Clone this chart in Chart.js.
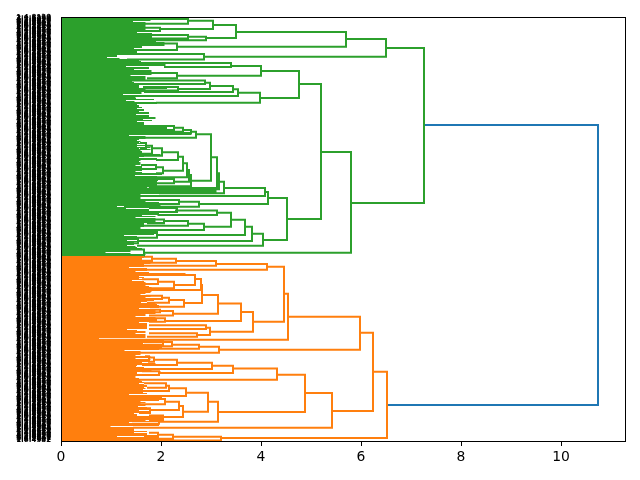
<!DOCTYPE html>
<html>
<head>
<meta charset="utf-8">
<title>Dendrogram</title>
<script src="https://cdn.jsdelivr.net/npm/chart.js@4/dist/chart.umd.min.js"></script>
<style>
html, body { margin: 0; padding: 0; background: #fff; }
canvas { display: block; }
</style>
</head>
<body>
<canvas id="myChart" width="640" height="480"></canvas>
<script>
// merge distance of every leaf, one per row of the y axis, top to bottom
const greenLeaves = [
    1.78,1.78,1.78,1.78,1.43,1.68,1.68,1.68,1.68,1.68,
    1.68,1.68,1.68,1.68,1.68,1.51,1.81,1.81,1.81,1.81,
    1.81,1.81,1.88,1.88,1.89,2.06,2.06,2.06,2.06,1.61,
    1.61,1.45,1.81,1.81,1.51,1.51,1.51,1.51,1.11,1.11,
    0.91,1.16,1.35,1.55,1.59,2.08,2.08,2.08,2.08,1.29,
    1.75,1.75,1.45,1.80,1.80,1.80,1.80,1.80,1.38,1.68,
    1.68,1.68,1.68,1.48,1.41,1.45,1.38,1.55,1.55,1.55,
    1.55,2.11,1.68,1.68,1.68,1.60,1.60,1.23,1.35,1.35,
    1.48,1.49,1.85,1.29,1.46,1.91,1.91,1.51,1.55,1.55,
    1.61,1.51,1.65,1.65,1.55,1.75,1.75,1.49,1.75,1.75,
    1.88,1.88,1.63,1.81,1.51,1.65,1.65,1.65,
    1.98,1.65,2.11,2.11,2.11,2.11,2.25,2.25,2.60,2.60,
    1.35,1.68,1.68,1.68,1.55,1.51,1.58,1.55,1.68,1.51,
    1.68,1.51,1.78,1.55,1.78,1.58,1.61,1.61,1.65,1.98,
    1.65,1.65,1.55,1.91,1.91,1.58,1.55,1.58,1.58,1.58,
    1.48,1.61,1.61,1.88,1.88,1.61,1.48,1.61,2.01,2.01,
    1.47,1.91,1.91,1.91,1.91,1.93,1.91,1.91,1.91,1.91,
    1.91,1.68,1.71,3.10,3.10,3.10,3.10,3.10,3.10,1.58,
    1.58,1.58,1.58,1.58,1.98,1.95,1.68,1.95,1.95,1.95,
    1.98,1.11,1.75,1.29,1.75,1.75,1.95,1.95,1.95,1.95,
    1.61,1.88,1.48,1.88,1.88,1.88,1.88,2.05,1.65,1.65,
    1.65,1.65,1.58,1.58,1.58,1.58,1.58,1.58,1.93,1.85,
    1.25,1.51,1.51,1.51,1.55,1.31,1.51,1.45,1.45,1.45,
    1.31,1.48,1.51,1.61,1.55,1.38,1.38,0.88,1.38,1.68,
    1.65
];
const orangeLeaves = [
    1.65,1.65,1.61,1.61,1.61,1.78,1.78,1.78,1.65,1.65,
    1.65,1.35,1.71,1.71,1.71,1.48,1.75,2.48,2.48,2.48,
    1.55,1.65,1.55,1.65,1.41,1.65,1.68,1.65,1.65,1.68,
    1.75,1.80,1.80,1.80,1.80,1.80,1.78,1.68,1.58,1.78,
    1.78,1.68,1.85,1.71,1.85,1.71,1.59,1.88,1.91,1.95,
    1.95,1.95,1.55,1.88,1.88,1.88,1.88,1.88,1.68,1.68,
    1.48,1.88,1.91,1.91,1.91,1.81,1.55,1.71,1.71,1.71,
    1.71,1.71,1.71,1.31,1.51,1.68,1.68,1.48,1.68,1.68,
    1.68,1.68,0.75,2.05,2.05,2.05,2.05,1.63,2.01,2.01,
    1.68,2.01,1.95,1.95,1.26,1.58,1.58,1.58,1.58,1.48,
    1.78,1.78,1.48,1.78,1.75,1.75,1.61,1.88,1.88,1.51,
    1.49,1.65,1.65,1.65,1.80,1.98,1.51,1.51,1.95,1.95,
    1.48,1.48,1.55,1.55,1.58,1.61,1.65,1.55,1.65,1.71,
    1.71,1.65,1.68,1.63,1.71,1.71,1.63,1.71,1.35,2.01,
    2.01,2.01,2.01,1.68,1.95,1.58,1.68,1.58,1.68,1.68,
    1.53,1.71,1.71,1.78,1.55,1.78,1.78,1.45,1.51,1.51,
    2.01,2.01,2.01,1.98,1.68,1.98,1.35,1.95,1.95,1.95,
    0.98,1.45,1.45,1.45,1.45,1.71,1.45,1.71,1.71,1.95,
    1.11,1.95,1.95,1.95,2.25
];

// merges: rows of the two children, then [child a distance, merge distance, child b distance]
const greenRows = [
    [31,186],[22,39.7],[15,29.7],[8,21],[3.7,12],[2,6.7],[10.7,14],[19.7,23.3],[18,21.5],[26.5,33],
    [37,42.5],[135,235.7],[67,202],[54,81],[49,58.7],[46,50],[56,61.3],[75.7,85.7],[72.3,79],[69,75],
    [65.7,72],[63.5,67],[70,73.5],[181,223],[175,187],[171,179],[164.7,176.3],[156.3,172.3],[140.3,171],[117.3,163.7],
    [114.7,120.7],[113,116],[110.7,114.7],[109,113],[158,169.3],[153,164.7],[162,166.3],[146.3,160.3],[139.7,153.7],[135.3,143],
    [131.3,138.7],[128.7,136.7],[126,131],[150.3,156.3],[148,152],[184.7,189.7],[183,187],[216.7,228.7],[209.7,224],[202.7,218],
    [195.7,209.7],[193.5,198],[191,195],[206.7,213],[204,208.7],[202.5,206.3],[215,220.7],[232.5,238.5],[221.3,226.3]
];
const greenDist = [
    [6.50,7.26,5.80],[5.70,6.50,2.86],[3.50,5.70,2.32],[3.04,3.50,2.90],[2.54,3.04,1.98],[1.78,2.54,1.68],[1.68,1.98,1.68],[2.54,2.90,1.82],[1.82,2.54,1.82],[2.06,2.32,1.82],
    [1.28,2.86,1.34],[5.20,5.80,1.66],[4.76,5.20,4.52],[4.00,4.76,3.98],[3.40,4.00,2.32],[2.08,3.40,2.08],[1.80,2.32,1.74],[3.54,3.98,1.92],[3.44,3.54,1.24],[2.98,3.44,1.68],
    [2.88,2.98,2.34],[1.40,2.88,1.38],[1.66,2.34,1.68],[4.14,4.52,4.04],[4.08,4.14,2.76],[3.26,4.08,1.58],[3.16,3.26,1.98],[3.12,3.16,1.78],[3.00,3.12,1.78],[2.70,3.00,2.60],
    [2.60,2.70,1.68],[2.44,2.60,1.98],[2.26,2.44,1.98],[1.68,2.26,1.68],[2.56,2.60,1.68],[2.52,2.56,2.26],[1.92,2.26,1.92],[2.44,2.52,1.92],[2.34,2.44,2.04],[2.02,2.34,1.92],
    [1.82,2.02,1.68],[1.70,1.82,1.64],[1.60,1.70,1.60],[1.90,2.04,1.92],[1.62,1.90,1.62],[2.36,2.76,1.28],[1.98,2.36,1.68],[3.82,4.04,1.54],[3.68,3.82,1.54],[3.40,3.68,1.92],
    [3.12,3.40,2.86],[2.30,3.12,1.95],[1.78,2.32,1.74],[2.54,2.86,1.56],[2.06,2.54,1.58],[1.74,2.06,1.74],[1.54,1.92,1.54],[1.38,1.66,1.38],[1.40,1.54,1.40]
];
const orangeRows = [
    [354.7,421],[315.7,394],[299.7,332.7],[276.7,322.7],[249.7,304.7],[247,252.7],[244,248.7],[241.7,245.7],[239.7,243.7],[295,314.7],
    [286.5,304],[278,296.7],[268,286],[262,273],[258,268],[264.7,271.3],[262.3,267],[283,289.7],[280.7,285.7],[278.7,282],
    [301.3,304.7],[294,298.5],[292.7,295.3],[310.7,318],[308.3,312],[316.3,319.7],[329.7,335.7],[327.7,331.7],[325,329.3],[324.3,327.7],
    [376,410.7],[357.7,395],[351.5,362.7],[348.7,356],[345.7,352],[342.7,348],[340.5,344.7],[339.3,343],[354.3,358],[384.7,404.7],
    [375.7,394.7],[371.3,379],[368.7,374],[366.3,370.7],[389,400],[384.7,393],[382,387.3],[391.3,396],[401,406.7],[398.5,403],
    [419.7,423.5],[417.7,421.7],[415.7,419.3]
];
const orangeDist = [
    [6.24,6.52,3.20],[5.98,6.24,5.42],[4.54,5.98,3.16],[4.46,4.54,0.74],[4.12,4.46,3.84],[3.10,4.12,1.72],[2.30,3.10,1.64],[1.82,2.30,1.62],[1.60,1.82,1.60],[3.60,3.84,2.98],
    [3.14,3.60,2.08],[2.82,3.14,2.24],[2.80,2.82,2.46],[2.68,2.80,1.80],[2.48,2.68,2.26],[1.94,2.26,1.74],[1.64,1.94,1.64],[2.16,2.46,1.68],[2.02,2.16,1.74],[1.72,2.02,1.74],
    [1.78,2.08,1.78],[1.98,2.24,1.78],[1.80,1.98,1.80],[2.90,2.98,2.72],[1.78,2.90,1.78],[1.78,2.72,1.74],[2.76,3.16,1.58],[2.22,2.76,1.94],[2.04,2.22,1.68],[1.68,2.04,1.68],
    [4.88,5.42,1.46],[4.32,4.88,3.14],[3.44,4.32,1.50],[3.02,3.44,1.96],[2.32,3.02,1.62],[1.86,2.32,1.64],[1.76,1.86,1.76],[1.70,1.76,1.66],[1.64,1.96,1.64],[2.94,3.14,1.96],
    [2.50,2.94,2.44],[2.16,2.50,1.38],[2.10,2.16,1.68],[1.68,2.10,1.74],[2.36,2.44,1.78],[2.08,2.36,1.78],[1.58,2.08,1.60],[1.58,1.78,1.58],[2.04,1.96,1.44],[1.78,2.04,1.78],
    [2.24,3.20,1.78],[1.94,2.24,1.98],[1.78,1.94,1.68]
];
const rootRows = [[108,388]];
const rootDist = [[7.26,10.74,6.52]];

const distTicks = [0, 2, 4, 6, 8, 10];
const leafLabels = [
    '1:4:8130', '2:1:6294', '4:7:3058', '1:3:9416', '6:2:0873',
    '3:8:5241', '9:5:1607', '1:6:4982', '7:4:2365', '5:9:7120',
    '2:0:3849', '8:1:6572', '1:7:0934'
];

const rowCount = greenLeaves.length + orangeLeaves.length;

// a leaf is a plain stem from 0 out to its merge distance
function stemPoints(leaves, firstRow) {
    let points = [];
    for (let i = 0; i < leaves.length; i++) {
        points.push({x: 0, y: firstRow + i + 0.5});
        points.push({x: leaves[i], y: firstRow + i + 0.5});
        points.push({x: null, y: null});
    }
    return points;
}

// a merge is the usual bracket: child a, out to the merge distance, back to child b
function linkPoints(rows, dist) {
    let points = [];
    for (let i = 0; i < rows.length; i++) {
        points.push({x: dist[i][0], y: rows[i][0]});
        points.push({x: dist[i][1], y: rows[i][0]});
        points.push({x: dist[i][1], y: rows[i][1]});
        points.push({x: dist[i][2], y: rows[i][1]});
        points.push({x: null, y: null});
    }
    return points;
}

function lineSet(points, color, width) {
    return {
        data: points,
        borderColor: color,
        borderWidth: width,
        pointRadius: 0,
        showLine: true,
        tension: 0,
        spanGaps: false,
        borderCapStyle: 'square',
        borderJoinStyle: 'miter'
    };
}

// four spines on top of the lines
const frame = {
    id: 'frame',
    afterDatasetsDraw(chart) {
        const a = chart.chartArea;
        const c = chart.ctx;
        c.save();
        c.strokeStyle = '#000';
        c.lineWidth = 1;
        c.strokeRect(a.left + 0.5, a.top + 0.5, a.right - a.left, a.bottom - a.top);
        c.restore();
    }
};

const ctx = document.getElementById('myChart').getContext('2d');
const myChart = new Chart(ctx, {
    type: 'scatter',
    data: {
        datasets: [
            lineSet(stemPoints(greenLeaves, 0), '#2ca02c', 1),
            lineSet(stemPoints(orangeLeaves, greenLeaves.length), '#ff7f0e', 1),
            lineSet(linkPoints(greenRows, greenDist), '#2ca02c', 2),
            lineSet(linkPoints(orangeRows, orangeDist), '#ff7f0e', 2),
            lineSet(linkPoints(rootRows, rootDist), '#1f77b4', 2)
        ]
    },
    plugins: [frame],
    options: {
        responsive: false,
        animation: false,
        layout: {padding: {top: 17, right: 15, bottom: 0, left: 0}},
        plugins: {legend: {display: false}, tooltip: {enabled: false}},
        scales: {
            x: {
                type: 'linear',
                min: 0,
                max: 11.28,
                afterBuildTicks(scale) {
                    scale.ticks = distTicks.map(v => ({value: v}));
                },
                afterFit(scale) { scale.height = 39; },
                border: {display: false},
                grid: {drawOnChartArea: false, drawTicks: true, tickLength: 5, color: '#000', lineWidth: 1},
                ticks: {
                    color: '#000',
                    padding: 3,
                    maxRotation: 0,
                    font: {family: 'DejaVu Sans', size: 13.9}
                }
            },
            y: {
                type: 'linear',
                min: 0,
                max: rowCount,
                reverse: true,
                afterBuildTicks(scale) {
                    let ticks = [];
                    for (let i = 0; i < rowCount; i++) {
                        ticks.push({value: i + 0.5});
                    }
                    scale.ticks = ticks;
                },
                afterFit(scale) { scale.width = 61; },
                border: {display: false},
                grid: {display: false, drawTicks: false},
                ticks: {
                    autoSkip: false,
                    color: '#000',
                    padding: 10,
                    maxRotation: 0,
                    font: {family: 'DejaVu Sans', size: 7, weight: 'bold'},
                    callback: function (value, index) {
                        return leafLabels[index % leafLabels.length];
                    }
                }
            }
        }
    }
});
</script>
</body>
</html>
